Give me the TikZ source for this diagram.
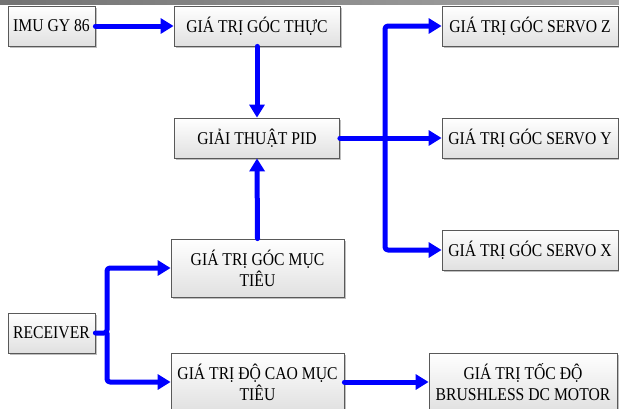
\documentclass[tikz,border=0pt]{standalone}
\usepackage{fontspec}
\setmainfont{Liberation Serif}[FakeStretch=0.87]
\usetikzlibrary{arrows.meta,shadows}
\begin{document}
\begin{tikzpicture}[x=1pt,y=-1pt,
  blk/.style={draw=black!65, line width=0.8pt, top color=white, bottom color=black!12,
    drop shadow={shadow xshift=1.5pt, shadow yshift=-1.5pt, opacity=0.25, fill=black},
    inner sep=0pt, align=center, font=\fontsize{18}{21}\selectfont},
  arr/.style={draw=blue, line width=5pt, line cap=round, line join=round, rounded corners=3pt,
    -{Triangle[length=13pt,width=15pt]}}]
\clip (0,0) rectangle (619,408);
\fill[left color=black!55, right color=black!35] (0,0) rectangle (619,4);
\node[blk, minimum width=87pt, minimum height=40pt] (imu) at (51.5,26) {IMU GY 86};
\node[blk, minimum width=166pt, minimum height=40pt] (thuc) at (257,26) {GIÁ TRỊ GÓC THỰC};
\node[blk, minimum width=165pt, minimum height=40pt] (pid) at (257,138) {GIẢI THUẬT PID};
\node[blk, minimum width=176pt, minimum height=40pt] (sz) at (530,26) {GIÁ TRỊ GÓC SERVO Z};
\node[blk, minimum width=176pt, minimum height=40pt] (sy) at (530,138) {GIÁ TRỊ GÓC SERVO Y};
\node[blk, minimum width=176pt, minimum height=40pt] (sx) at (530,250) {GIÁ TRỊ GÓC SERVO X};
\node[blk, minimum width=173pt, minimum height=58pt] (mt) at (257.5,268) {GIÁ TRỊ GÓC MỤC\\TIÊU};
\node[blk, minimum width=87pt, minimum height=40pt] (rc) at (51.5,333) {RECEIVER};
\node[blk, minimum width=173pt, minimum height=58pt] (dc) at (257.5,382) {GIÁ TRỊ ĐỘ CAO MỤC\\TIÊU};
\node[blk, minimum width=188pt, minimum height=58pt] (bl) at (523,382) {GIÁ TRỊ TỐC ĐỘ\\BRUSHLESS DC MOTOR};
\coordinate (b1) at (385,138);
\coordinate (b2) at (107,333);
\draw[arr] (imu.east) -- (thuc.west);
\draw[arr] (thuc.south) -- (pid.north);
\draw[arr] (mt.north) -- (pid.south);
\draw[arr] (pid.east) -- (sy.west);
\draw[arr] (b1) |- (sz.west);
\draw[arr] (b1) |- (sx.west);
\draw[arr] (rc.east) -- (b2) |- (mt.west);
\draw[arr] (b2) |- (dc.west);
\draw[arr] (dc.east) -- (bl.west);
\end{tikzpicture}
\end{document}
